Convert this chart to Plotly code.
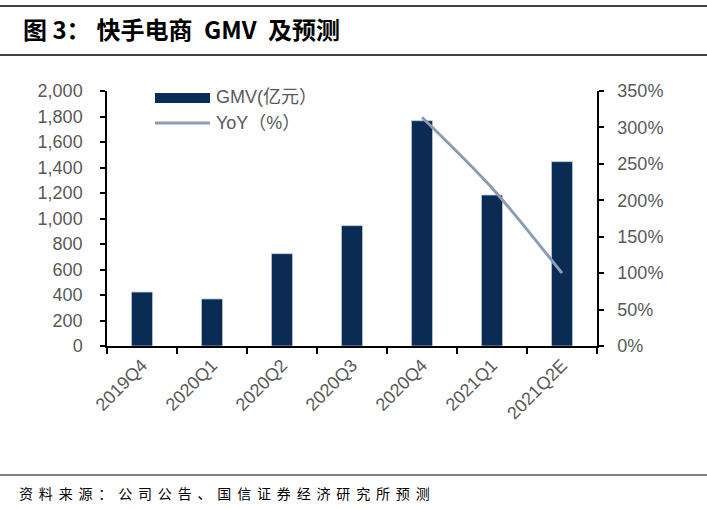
import plotly.graph_objects as go

categories = ["2019Q4", "2020Q1", "2020Q2", "2020Q3", "2020Q4", "2021Q1", "2021Q2E"]
gmv = [423, 369, 724, 944, 1767, 1184, 1446]
yoy_categories = ["2020Q4", "2021Q1", "2021Q2E"]
yoy = [3.14, 2.17, 1.00]

BAR = "#0A2B53"
LINE = "#8D9CB0"
TICK = "#595959"
TFONT = dict(family="Liberation Sans, Arial, sans-serif", size=18, color=TICK)

fig = go.Figure()
fig.add_trace(go.Bar(x=categories, y=gmv, width=0.3, marker=dict(color=BAR, line=dict(color="#b8c6d8", width=0.8)),
                     name="GMV(亿元）", yaxis="y"))
fig.add_trace(go.Scatter(x=yoy_categories, y=yoy, mode="lines", line=dict(color=LINE, width=3, shape="spline", smoothing=0.8),
                         name="YoY（%）", yaxis="y2"))

W, H = 707, 509
L, R, T, B = 107, 597, 91, 346
pw, ph = R - L, B - T
def px(x): return (x - L) / pw
def py(y): return (B - y) / ph

shapes = [
    dict(type="line", xref="paper", yref="paper", x0=px(0), x1=px(W), y0=py(6), y1=py(6), line=dict(color="black", width=1.5)),
    dict(type="line", xref="paper", yref="paper", x0=px(0), x1=px(W), y0=py(55), y1=py(55), line=dict(color="black", width=1.5)),
    dict(type="line", xref="paper", yref="paper", x0=px(0), x1=px(W), y0=py(475), y1=py(475), line=dict(color="black", width=1.2)),
    # legend symbols
    dict(type="rect", xref="paper", yref="paper", x0=px(155), x1=px(210), y0=py(103), y1=py(93), fillcolor=BAR, line=dict(width=0)),
    dict(type="line", xref="paper", yref="paper", x0=px(155), x1=px(210), y0=py(123), y1=py(123), line=dict(color=LINE, width=3)),
]

sp = "\u2005\u2006"
footer = sp.join(list("资料来源：公司公告、国信证券经济研究所预测"))

title = "<b>图 3：\u2005快手电商\u2005 GMV \u2005及预测</b>"

annotations = [
    dict(text=title, xref="paper", yref="paper", x=px(21), y=py(29), xanchor="left", yanchor="middle",
         showarrow=False, font=dict(family="Noto Sans CJK SC, sans-serif", size=24, color="black")),
    dict(text=footer, xref="paper", yref="paper", x=px(17), y=py(493), xanchor="left", yanchor="middle",
         showarrow=False, font=dict(family="Noto Sans CJK SC, sans-serif", size=14, color="black")),
    dict(text="GMV(亿元）", xref="paper", yref="paper", x=px(214), y=py(97), xanchor="left", yanchor="middle",
         showarrow=False, font=dict(family="Liberation Sans, Noto Sans CJK SC, sans-serif", size=18, color=TICK)),
    dict(text="YoY（%）", xref="paper", yref="paper", x=px(214), y=py(123), xanchor="left", yanchor="middle",
         showarrow=False, font=dict(family="Liberation Sans, Noto Sans CJK SC, sans-serif", size=18, color=TICK)),
]

fig.update_layout(
    width=W, height=H,
    margin=dict(l=L, r=W - R, t=T, b=H - B, pad=0),
    paper_bgcolor="white", plot_bgcolor="white",
    showlegend=False,
    xaxis=dict(type="category", range=[-0.5, 6.5], showline=True, linecolor="black", linewidth=1.5,
               ticks="outside", tickson="boundaries", ticklen=6, tickcolor="black", tickwidth=1.5,
               tickangle=-45, tickfont=TFONT, showgrid=False, zeroline=False),
    yaxis=dict(range=[0, 2000], dtick=200, tickformat=",", showline=True, linecolor="black", linewidth=1.5,
               ticks="outside", ticklen=5, tickcolor="black", tickwidth=1.5, tickfont=TFONT,
               showgrid=False, zeroline=False, ticklabelstandoff=14),
    yaxis2=dict(range=[0, 3.5], dtick=0.5, tickformat=".0%", overlaying="y", side="right", showline=True,
                linecolor="black", linewidth=1.5, ticks="outside", ticklen=5, tickcolor="black", tickwidth=1.5,
                tickfont=TFONT, showgrid=False, zeroline=False, ticklabelstandoff=10),
    shapes=shapes, annotations=annotations,
)

fig.write_html("out.html", config={"displayModeBar": False},
               post_script="document.body.style.margin='0';document.body.style.padding='0';")
